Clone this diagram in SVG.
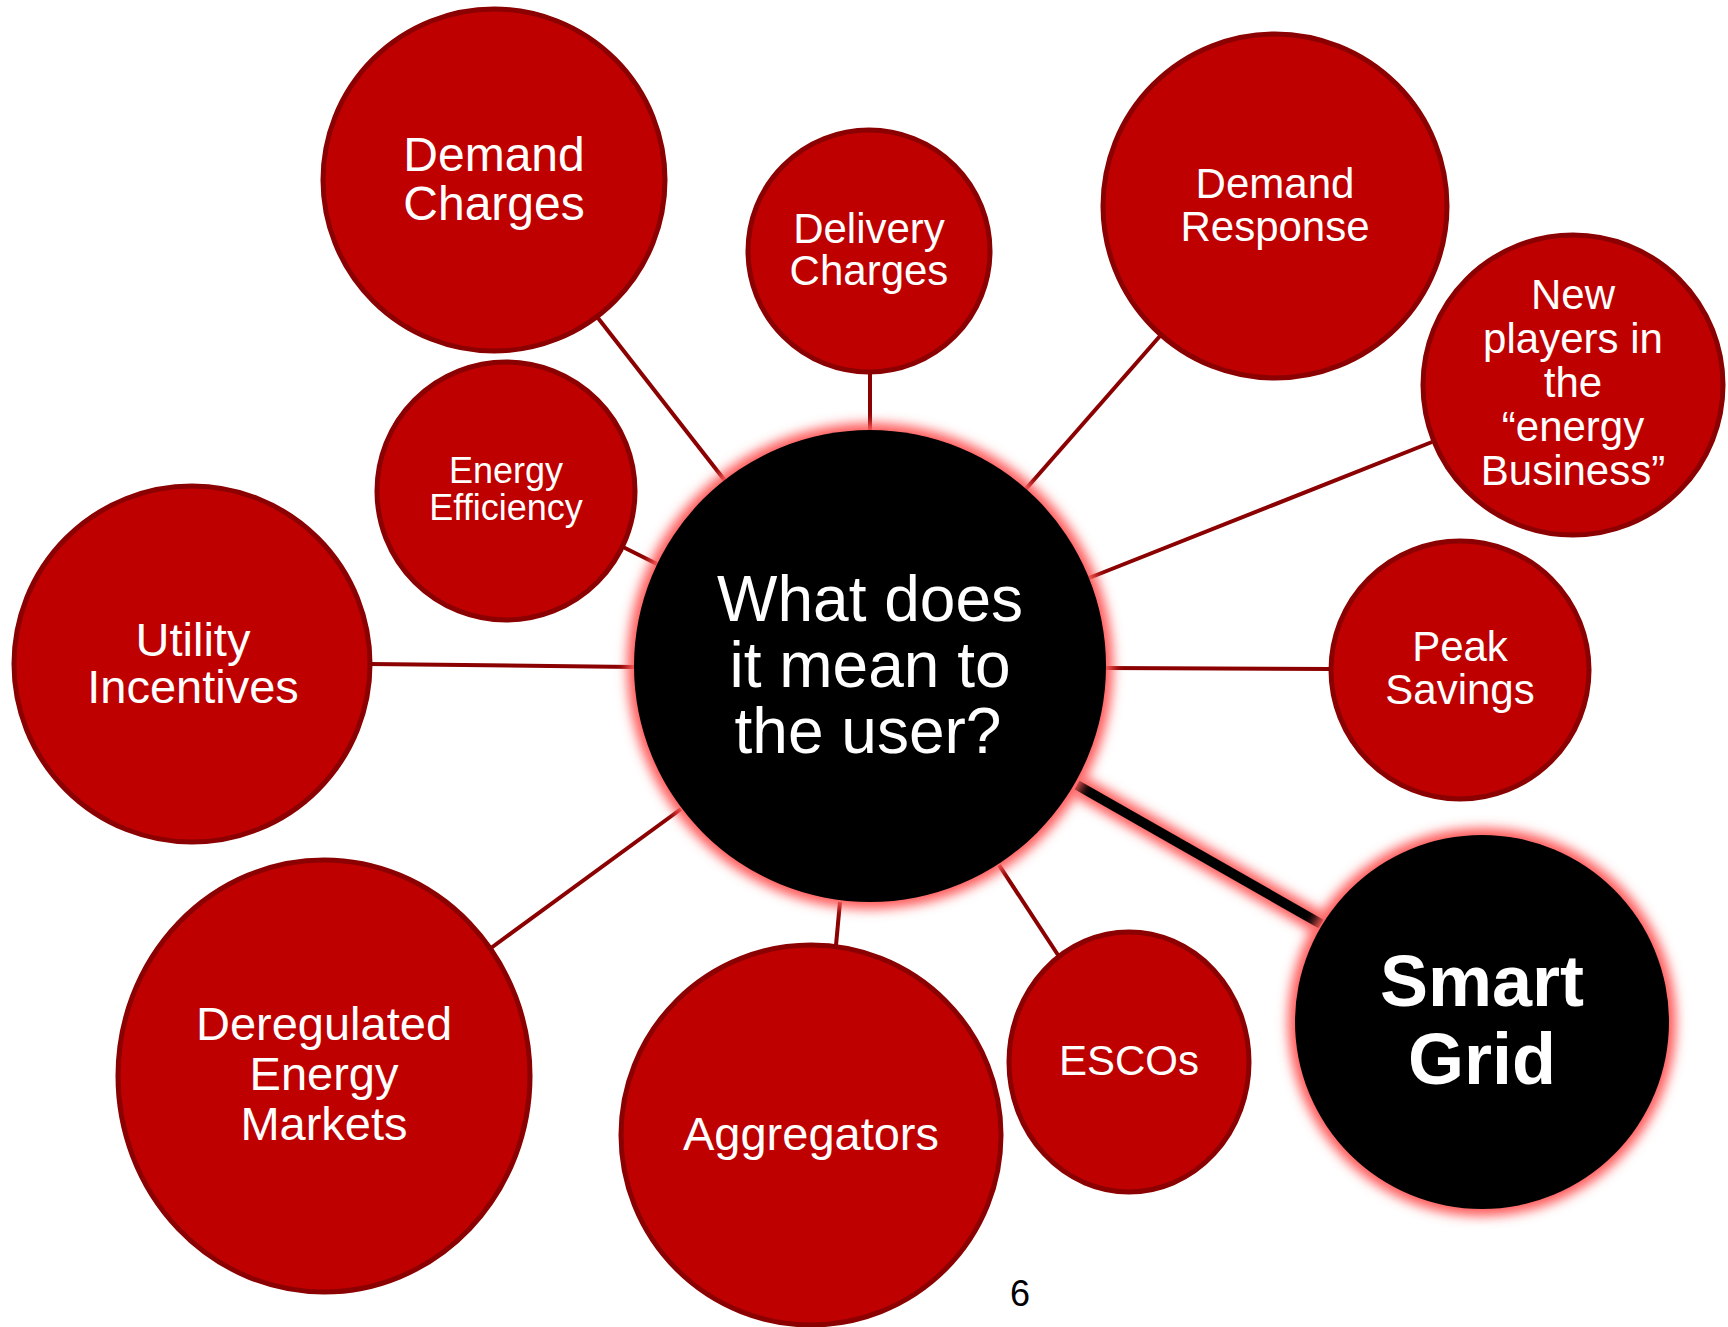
<svg xmlns="http://www.w3.org/2000/svg" width="1728" height="1327" viewBox="0 0 1728 1327">
<style>
.bub{fill:#bf0000;stroke:#8b0000;stroke-width:5}
.core{fill:#000}
.con{stroke:#8b0000;stroke-width:4;fill:none}
.lbl{fill:#fff;font-family:"Liberation Sans",Arial,sans-serif;text-anchor:middle}
.glow{fill:#ff5a5a;filter:url(#blur)}
</style>
<defs>
<filter id="blur" x="-20%" y="-20%" width="140%" height="140%"><feGaussianBlur stdDeviation="6"/></filter>
</defs>
<rect width="1728" height="1327" fill="#fff"/>
<g id="connectors">
<line class="con" x1="598" y1="318" x2="726" y2="482"/>
<line class="con" x1="870" y1="372" x2="870" y2="432"/>
<line class="con" x1="623" y1="547" x2="657" y2="564"/>
<line class="con" x1="370" y1="664" x2="634" y2="667"/>
<line class="con" x1="1160" y1="336" x2="1025" y2="490"/>
<line class="con" x1="1432" y1="442" x2="1089" y2="578"/>
<line class="con" x1="1106" y1="668" x2="1331" y2="669"/>
<line class="con" x1="491" y1="948" x2="681" y2="809"/>
<line class="con" x1="836" y1="945" x2="840" y2="902"/>
<line class="con" x1="1058" y1="955" x2="999" y2="865"/>
<line x1="1077" y1="785" x2="1321" y2="924" stroke="#ff5a5a" stroke-width="22" filter="url(#blur)"/>
<line x1="1077" y1="785" x2="1321" y2="924" stroke="#000" stroke-width="10"/>
</g>
<g id="n-demand-charges">
<circle class="bub" cx="494" cy="180" r="171"/>
<text class="lbl" font-size="48"><tspan x="494" y="171">Demand</tspan><tspan x="494" y="220">Charges</tspan></text>
</g>
<g id="n-delivery-charges">
<circle class="bub" cx="869" cy="251" r="121"/>
<text class="lbl" font-size="42"><tspan x="869" y="243">Delivery</tspan><tspan x="869" y="285">Charges</tspan></text>
</g>
<g id="n-demand-response">
<circle class="bub" cx="1275" cy="206" r="172"/>
<text class="lbl" font-size="42"><tspan x="1275" y="198">Demand</tspan><tspan x="1275" y="241">Response</tspan></text>
</g>
<g id="n-new-players">
<circle class="bub" cx="1573" cy="385" r="150"/>
<text class="lbl" font-size="42"><tspan x="1573" y="309">New</tspan><tspan x="1573" y="353">players in</tspan><tspan x="1573" y="397">the</tspan><tspan x="1573" y="441">“energy</tspan><tspan x="1573" y="485">Business”</tspan></text>
</g>
<g id="n-energy-efficiency">
<circle class="bub" cx="506" cy="491" r="129"/>
<text class="lbl" font-size="36"><tspan x="506" y="483">Energy</tspan><tspan x="506" y="520">Efficiency</tspan></text>
</g>
<g id="n-utility-incentives">
<circle class="bub" cx="192" cy="664" r="178"/>
<text class="lbl" font-size="47"><tspan x="193" y="656">Utility</tspan><tspan x="193" y="703">Incentives</tspan></text>
</g>
<g id="n-peak-savings">
<circle class="bub" cx="1460" cy="670" r="129"/>
<text class="lbl" font-size="42"><tspan x="1460" y="661">Peak</tspan><tspan x="1460" y="704">Savings</tspan></text>
</g>
<g id="n-center">
<circle class="glow" cx="870" cy="666" r="243"/>
<circle class="core" cx="870" cy="666" r="236"/>
<text class="lbl" font-size="64"><tspan x="870" y="621">What does</tspan><tspan x="870" y="687">it mean to</tspan><tspan x="868" y="753">the user?</tspan></text>
</g>
<g id="n-deregulated">
<ellipse class="bub" cx="324" cy="1076" rx="206" ry="216"/>
<text class="lbl" font-size="47"><tspan x="324" y="1040">Deregulated</tspan><tspan x="324" y="1090">Energy</tspan><tspan x="324" y="1140">Markets</tspan></text>
</g>
<g id="n-aggregators">
<circle class="bub" cx="811" cy="1135" r="190"/>
<text class="lbl" font-size="47" x="811" y="1150">Aggregators</text>
</g>
<g id="n-escos">
<ellipse class="bub" cx="1129" cy="1062" rx="120" ry="130"/>
<text class="lbl" font-size="42" x="1129" y="1075">ESCOs</text>
</g>
<g id="n-smart-grid">
<circle class="glow" cx="1482" cy="1022" r="194"/>
<circle class="core" cx="1482" cy="1022" r="187"/>
<text class="lbl" font-size="72" font-weight="bold"><tspan x="1482" y="1006">Smart</tspan><tspan x="1482" y="1084">Grid</tspan></text>
</g>
<text x="1020" y="1306" font-family="Liberation Sans,Arial,sans-serif" font-size="36" fill="#000" text-anchor="middle">6</text>
</svg>
